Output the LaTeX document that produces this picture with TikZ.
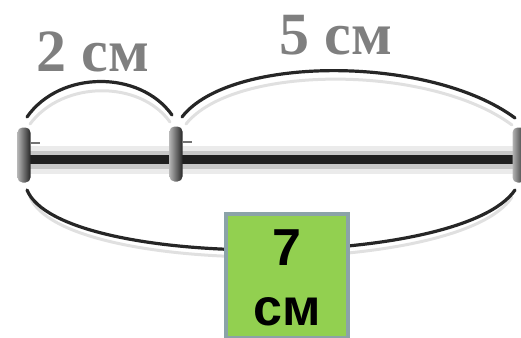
\documentclass[tikz,border=0pt]{standalone}
\usepackage{fontspec}
\setmainfont{Liberation Serif}
\newfontfamily\boxfont{Liberation Sans}
\definecolor{labelgray}{HTML}{7F7F7F}
\definecolor{boxgreen}{HTML}{92D050}
\definecolor{boxedge}{HTML}{8BA3A8}
\begin{document}
\begin{tikzpicture}[x=1pt,y=-1pt,
  arcline/.style={line width=3.2pt, black!85, line cap=round},
  arcshadow/.style={line width=3pt, black!12, line cap=round},
  endcap/.style={shade, left color=black!30, right color=black!85, rounded corners=5pt, minimum width=13pt, minimum height=55pt, inner sep=0pt},
  lenlabel/.style={font=\fontsize{60}{60}\selectfont\bfseries, text=labelgray, inner sep=0pt},
  answerbox/.style={draw=boxedge, line width=4.5pt, fill=boxgreen, minimum width=122pt, minimum height=124pt, inner sep=0pt},
  boxtext/.style={font=\boxfont\bfseries\fontsize{52}{52}\selectfont, inner sep=0pt}]
\useasboundingbox (0,0) rectangle (521,337);
% bar shading
\draw[line width=28pt, black!8] (24,160) -- (517,160);
\draw[line width=18pt, black!22] (24,160) -- (517,160);
% bar
\coordinate (barL) at (24,159);
\coordinate (barM) at (176,159);
\coordinate (barR) at (517,159);
\draw[line width=9pt, black!88] (barL) -- (barM) -- (barR);
% end caps
\node[endcap] (A) at (24,155) {};
\node[endcap] (B) at (176,154) {};
\node[endcap] (C) at (519,155) {};
\draw[line width=1.5pt, black!55] (A.east) ++(0,-12) coordinate (a1) -- ++(9,0);
\draw[line width=1.5pt, black!55] (B.east) ++(0,-12) coordinate (b1) -- ++(9,0);
% arc anchors
\coordinate (a2s) at (27,117);
\coordinate (b2e) at (172,115);
\coordinate (b5s) at (182,117);
\coordinate (c5e) at (515,118);
\coordinate (abot) at (27,190);
\coordinate (cbot) at (515,190);
% shadows
\draw[arcshadow] (30,124) .. controls (63,80) and (140,80) .. (170,122);
\draw[arcshadow] (186,124) .. controls (234,64) and (430,64) .. (512,125);
\draw[arcshadow] (30,197) .. controls (63,277) and (460,277) .. (512,197);
% arcs
\draw[arcline] (a2s) .. controls (60,70) and (140,70) .. (b2e);
\draw[arcline] (b5s) .. controls (230,55) and (430,55) .. (c5e);
\draw[arcline] (abot) .. controls (60,270) and (460,270) .. (cbot);
% labels
\node[lenlabel] (l2) at (93,52) {2 см};
\node[lenlabel] (l5) at (336,35) {5 см};
% answer box
\node[answerbox] (ans) at (287,276) {};
\node[boxtext, anchor=base] (ans7) at (287,265) {7};
\node[boxtext, anchor=base] (anscm) at (287,325) {см};
\end{tikzpicture}
\end{document}
